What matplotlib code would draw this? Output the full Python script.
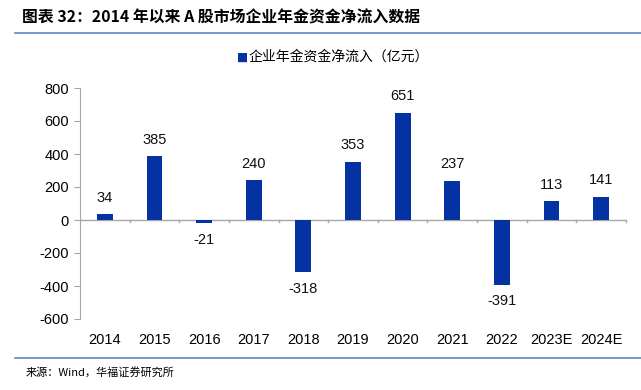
import matplotlib.pyplot as plt
from matplotlib.lines import Line2D
import numpy as np

plt.rcParams['font.family'] = ['Liberation Sans', 'Noto Sans CJK SC', 'DejaVu Sans']
plt.rcParams['axes.unicode_minus'] = False

# 数据
years = ['2014', '2015', '2016', '2017', '2018', '2019', '2020', '2021', '2022', '2023E', '2024E']
inflow = [34, 385, -21, 240, -318, 353, 651, 237, -391, 113, 141]

bar_color = '#0532A3'
axis_color = '#A6A6A6'
rule_color = '#5B86C5'

fig = plt.figure(figsize=(6.41, 3.90), dpi=100)
ax = fig.add_axes([80 / 641, 1 - 319 / 390, (626 - 80) / 641, (319 - 88) / 390])

x = np.arange(len(years))
ax.bar(x, inflow, width=0.32, color=bar_color, zorder=3)

# 数据标签
for xi, v in zip(x, inflow):
    if v >= 0:
        ax.annotate(str(v), (xi, v), xytext=(0, 7), textcoords='offset points',
                    ha='center', va='bottom', fontsize=10.5, color='#111111')
    else:
        ax.annotate(str(v), (xi, v), xytext=(0, -7), textcoords='offset points',
                    ha='center', va='top', fontsize=10.5, color='#111111')

ax.set_xlim(-0.5, len(years) - 0.5)
ax.set_ylim(-600, 800)
ax.set_yticks(range(-600, 801, 200))
ax.tick_params(axis='y', length=4, color=axis_color, labelsize=10.5, pad=4)

# x 轴在 0 处，刻度在分类边界
ax.axhline(0, color=axis_color, lw=1, zorder=2)
ax.set_xticks(x)
ax.set_xticklabels(years, fontsize=10.5)
ax.tick_params(axis='x', length=0, pad=10)
for b in np.arange(0.5, len(years), 1.0):
    ax.plot([b, b], [0, -12], color=axis_color, lw=1, zorder=2, clip_on=False)

for s in ['top', 'right', 'bottom']:
    ax.spines[s].set_visible(False)
ax.spines['left'].set_color(axis_color)

# 图例
fig.text(242.5 / 641, 1 - 57 / 390, '■', color=bar_color, fontsize=8.5,
         ha='center', va='center', family=['DejaVu Sans'])
fig.text(249 / 641, 1 - 57 / 390, '企业年金资金净流入（亿元）', fontsize=10,
         ha='left', va='center', family=['Noto Sans CJK SC'])

# 标题与来源
fig.text(22 / 641, 1 - 17 / 390, '图表 32：2014 年以来 A 股市场企业年金资金净流入数据',
         fontsize=11.4, fontweight='bold', ha='left', va='center',
         family=['Noto Sans CJK SC'])
fig.add_artist(Line2D([15 / 641, 1], [1 - 33 / 390] * 2, color=rule_color, lw=1.2))
fig.add_artist(Line2D([15 / 641, 1], [1 - 358 / 390] * 2, color=rule_color, lw=1.2))
fig.text(26 / 641, 1 - 372 / 390, '来源：Wind，华福证券研究所', fontsize=8,
         ha='left', va='center', family=['Noto Sans CJK SC', 'Liberation Sans'])

fig.savefig('out.png', dpi=100)
